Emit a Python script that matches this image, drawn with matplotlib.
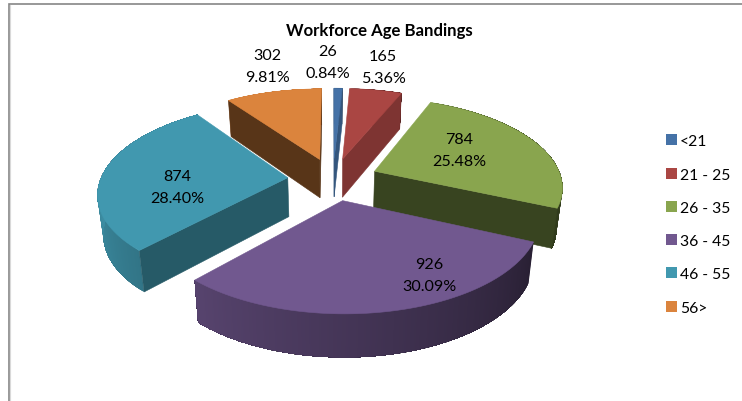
import numpy as np
import matplotlib
matplotlib.use('Agg')
import matplotlib.pyplot as plt
from matplotlib.colors import to_rgb
from matplotlib.patches import Patch

plt.rcParams['font.family'] = ['Lato', 'DejaVu Sans']

# data
bands = ['<21', '21 - 25', '26 - 35', '36 - 45', '46 - 55', '56>']
counts = [26, 165, 784, 926, 874, 302]
colors = ['#4572A7', '#AA4643', '#89A54E', '#71588F', '#4198AF', '#DB843D']
# how dark the flat cut faces are for each slice
cut_shade = [0.75, 0.74, 0.41, 0.3, 0.59, 0.4]
# label centres in pixels
label_xy = [(328, 63), (383, 68), (459, 151), (429, 276), (177, 188), (267, 67)]

# projection settings, fitted by eye from the picture
cx, cy = 333, 180
rx, ry = 187, 87.5
persp = 0.159
explode = 0.243
height = 39


def project(X, Y, low=False):
    s = 1 / (1 + persp * Y)
    px = cx + rx * X * s
    py = cy - ry * Y * s
    if low:
        px = cx + (px - cx) * 0.975
        py = py + height * np.sqrt(s)
    return px, py


def signed_area(pts):
    x, y = np.array(pts).T
    return 0.5 * np.sum(x * np.roll(y, -1) - np.roll(x, -1) * y)


def wall_shade(angle):
    # lit from the left, dark to the right
    return np.clip(0.36 + (angle - 114) * 0.00378, 0.36, 0.95)


fig = plt.figure(figsize=(7.42, 4.02), dpi=100)
ax = fig.add_axes([0, 0, 1, 1])
ax.set_xlim(0, 742)
ax.set_ylim(402, 0)
ax.axis('off')

# chart frame
ax.plot([8.5, 8.5, 742], [402, 4.5, 4.5], color='#868686', lw=1.2, solid_joinstyle='miter')
ax.plot([9.8, 9.8], [6, 402], color='#d9d9d9', lw=0.8)

total = sum(counts)
edges = np.concatenate([[0], np.cumsum(counts)]) / total * 360

slices = []
for i in range(len(counts)):
    a0, a1 = edges[i], edges[i + 1]
    mid = np.radians((a0 + a1) / 2)
    ox, oy = explode * np.sin(mid), explode * np.cos(mid)
    slices.append((oy, i, a0, a1, ox))

# back to front
for oy, i, a0, a1, ox in sorted(slices, key=lambda t: -t[0]):
    base = np.array(to_rgb(colors[i]))
    ang = np.linspace(a0, a1, max(int(a1 - a0) * 2, 4))
    X = ox + np.sin(np.radians(ang))
    Y = oy + np.cos(np.radians(ang))

    # outer wall in thin strips for the shading, each one runs on to the
    # end of the wall and the next paints over it, so no seams show
    for j in range(len(ang) - 1):
        upper = [project(x, y) for x, y in zip(X[j:], Y[j:])]
        lower = [project(x, y, low=True) for x, y in zip(X[j:], Y[j:])]
        c = base * wall_shade((ang[j] + ang[j + 1]) / 2)
        ax.fill(*zip(*(upper + lower[::-1])), facecolor=c, edgecolor='none', zorder=2)

    # flat cut faces, only those turned to the viewer
    for k, sign in ((0, 1), (-1, -1)):
        t_tip = project(ox, oy)
        b_tip = project(ox, oy, low=True)
        t_out = project(X[k], Y[k])
        b_out = project(X[k], Y[k], low=True)
        quad = [t_tip, t_out, b_out, b_tip]
        if signed_area(quad) * sign < 0:
            ax.fill(*zip(*quad), color=base * cut_shade[i], lw=0.4, zorder=2)

    # top
    top = [project(ox, oy)] + [project(x, y) for x, y in zip(X, Y)]
    ax.fill(*zip(*top), color=base, lw=0.4, zorder=2)

for n, (lx, ly) in zip(counts, label_xy):
    ax.text(lx, ly, f'{n}\n{n / total * 100:.2f}%', ha='center', va='center',
            fontsize=11.6, color='black', linespacing=1.65, zorder=5)

ax.text(379, 31, 'Workforce Age Bandings', ha='center', va='center',
        fontsize=12.1, fontweight='bold', color='black')

handles = [Patch(facecolor=c, edgecolor='none', label=b) for c, b in zip(colors, bands)]
ax.legend(handles=handles, loc='center left', bbox_to_anchor=(666 / 742, 1 - 225.5 / 402),
          frameon=False, fontsize=11.3, handlelength=0.7, handleheight=0.7,
          handletextpad=0.2, labelspacing=1.23, borderpad=0, borderaxespad=0)

fig.savefig('out.png', dpi=100)
